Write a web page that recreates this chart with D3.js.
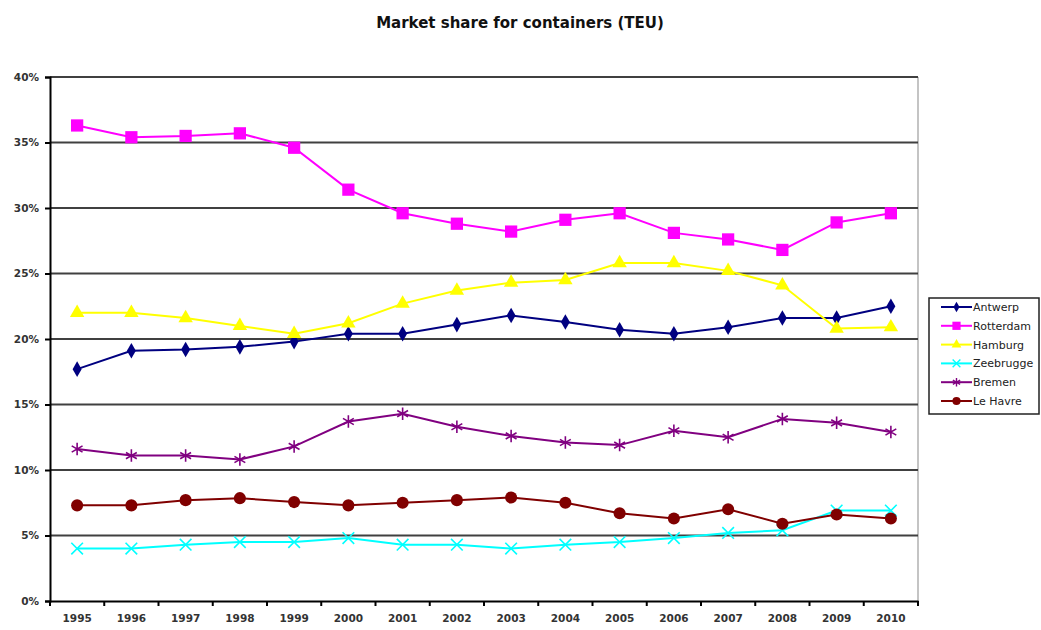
<!DOCTYPE html>
<html><head><meta charset="utf-8">
<script src="https://cdn.jsdelivr.net/npm/d3@7"></script>
<style>body{margin:0;background:#fff}svg{display:block}</style>
</head><body>
<svg id="chart" width="1041" height="630"></svg>
<script>
const title = "Market share for containers (TEU)";
const years = ["1995","1996","1997","1998","1999","2000","2001","2002","2003","2004","2005","2006","2007","2008","2009","2010"];
const yTicks = [0,5,10,15,20,25,30,35,40];
const seriesNames = ["Antwerp","Rotterdam","Hamburg","Zeebrugge","Bremen","Le Havre"];
const antwerp   = [17.7,19.1,19.2,19.4,19.8,20.4,20.4,21.1,21.8,21.3,20.7,20.4,20.9,21.6,21.6,22.5];
const rotterdam = [36.3,35.4,35.5,35.7,34.6,31.4,29.6,28.8,28.2,29.1,29.6,28.1,27.6,26.8,28.9,29.6];
const hamburg   = [22.0,22.0,21.6,21.0,20.4,21.2,22.7,23.7,24.3,24.5,25.8,25.8,25.2,24.1,20.8,20.9];
const zeebrugge = [4.0,4.0,4.3,4.5,4.5,4.8,4.3,4.3,4.0,4.3,4.5,4.8,5.2,5.4,6.9,6.9];
const bremen    = [11.6,11.1,11.1,10.8,11.8,13.7,14.3,13.3,12.6,12.1,11.9,13.0,12.5,13.9,13.6,12.9];
const leHavre   = [7.3,7.3,7.7,7.85,7.55,7.3,7.5,7.7,7.9,7.5,6.7,6.3,7.0,5.9,6.6,6.3];
const seriesValues = [antwerp, rotterdam, hamburg, zeebrugge, bremen, leHavre];
const colors = ["#000080","#FF00FF","#FFFF00","#00FFFF","#800080","#800000"];

const svg = d3.select("#chart");
const L = 50, R = 918, T = 77, B = 601;
const x = d3.scaleBand().domain(years).range([L, R]);
const y = d3.scaleLinear().domain([0, 40]).range([B, T]);
const font = "'DejaVu Sans', Verdana, sans-serif";

svg.append("text").attr("x", 520).attr("y", 28).attr("text-anchor", "middle")
  .attr("font-family", font).attr("font-weight", "bold").attr("font-size", 15)
  .attr("fill", "#111").text(title);

// right border
svg.append("line").attr("x1", R).attr("x2", R).attr("y1", T).attr("y2", B)
  .attr("stroke", "#b0b0b0").attr("stroke-width", 1.5);

// gridlines
svg.append("g").selectAll("line").data(yTicks.filter(d => d > 0)).join("line")
  .attr("x1", L).attr("x2", R).attr("y1", d => y(d)).attr("y2", d => y(d))
  .attr("stroke", "#404040").attr("stroke-width", 2);

// y axis
const yAxis = svg.append("g").attr("transform", `translate(${L},0)`)
  .call(d3.axisLeft(y).tickValues(yTicks).tickFormat(d => d + "%").tickSize(5).tickPadding(6));
yAxis.select(".domain").attr("stroke", "#000").attr("stroke-width", 2);
yAxis.selectAll(".tick line").attr("stroke", "#000").attr("stroke-width", 2);
yAxis.selectAll("text").attr("font-family", font).attr("font-weight", "bold").attr("font-size", 10.5).attr("fill", "#333");

// x axis
const xAxis = svg.append("g").attr("transform", `translate(0,${B})`)
  .call(d3.axisBottom(x).tickSize(0).tickPadding(14));
xAxis.select(".domain").attr("stroke", "#000").attr("stroke-width", 2);
xAxis.selectAll("text").attr("font-family", font).attr("font-weight", "bold").attr("font-size", 10.5).attr("fill", "#333");
// tick marks at band boundaries
const bounds = years.map(d => x(d)).concat([R]);
svg.append("g").selectAll("line").data(bounds).join("line")
  .attr("x1", d => d).attr("x2", d => d).attr("y1", B).attr("y2", B + 5)
  .attr("stroke", "#000").attr("stroke-width", 2);

const symbols = [
  {type: d3.symbolDiamond, size: 70, fill: true},
  {type: d3.symbolSquare, size: 150, fill: true},
  {type: d3.symbolTriangle, size: 90, fill: true},
  {type: d3.symbolX, size: 90, fill: false},
  {type: d3.symbolAsterisk, size: 110, fill: false},
  {type: d3.symbolCircle, size: 115, fill: true}
];

const line = d3.line().x((d, i) => x(years[i]) + x.bandwidth() / 2).y(d => y(d));
seriesValues.forEach((vals, si) => {
  const g = svg.append("g");
  g.append("path").datum(vals).attr("d", line).attr("fill", "none")
    .attr("stroke", colors[si]).attr("stroke-width", 2);
  const s = symbols[si];
  g.selectAll("path.m").data(vals).join("path").attr("class", "m")
    .attr("transform", (d, i) => `translate(${x(years[i]) + x.bandwidth() / 2},${y(d)})`)
    .attr("d", d3.symbol(s.type, s.size))
    .attr("fill", s.fill ? colors[si] : "none")
    .attr("stroke", colors[si]).attr("stroke-width", s.fill ? 0 : 1.6);
});

// legend
const lg = svg.append("g");
lg.append("rect").attr("x", 929).attr("y", 298).attr("width", 110).attr("height", 116)
  .attr("fill", "#fff").attr("stroke", "#222").attr("stroke-width", 1.5);
seriesNames.forEach((n, i) => {
  const ly = 307 + i * 18.8;
  lg.append("line").attr("x1", 941).attr("x2", 972).attr("y1", ly).attr("y2", ly)
    .attr("stroke", colors[i]).attr("stroke-width", 2);
  const s = symbols[i];
  lg.append("path").attr("transform", `translate(956.5,${ly})`)
    .attr("d", d3.symbol(s.type, s.size * 0.45))
    .attr("fill", s.fill ? colors[i] : "none")
    .attr("stroke", colors[i]).attr("stroke-width", s.fill ? 0 : 1.4);
  lg.append("text").attr("x", 973).attr("y", ly + 4).attr("font-family", font)
    .attr("font-size", 11).attr("fill", "#222").text(n);
});
</script>
</body></html>
